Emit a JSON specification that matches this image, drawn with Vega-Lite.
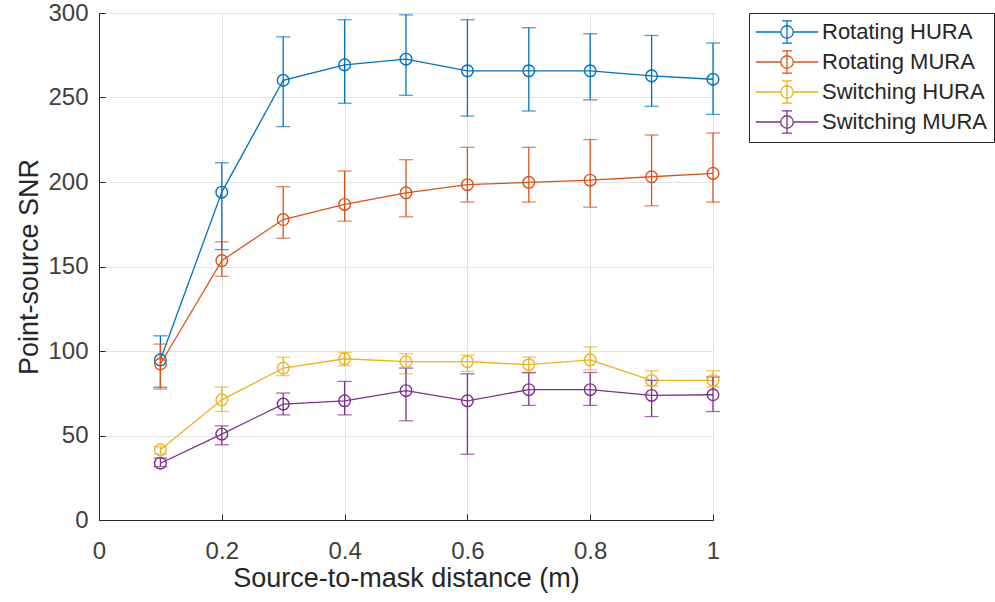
{
  "$schema": "https://vega.github.io/schema/vega-lite/v6.json",
  "width": 614,
  "height": 507,
  "autosize": "none",
  "padding": {"left": 99, "top": 13, "right": 282, "bottom": 82},
  "background": "white",
  "config": {
    "view": {"stroke": "#262626", "strokeWidth": 1},
    "font": "Liberation Sans",
    "axis": {
      "domainColor": "#262626",
      "tickColor": "#262626",
      "labelColor": "#404040",
      "titleColor": "#262626",
      "labelFont": "Liberation Sans",
      "titleFont": "Liberation Sans",
      "labelFontSize": 24,
      "titleFontSize": 27,
      "titleFontWeight": "normal",
      "labelFlush": false,
      "gridColor": "#e3e3e3",
      "gridWidth": 1,
      "tickSize": -6
    }
  },
  "data": {
    "values": [
      {"series": "Rotating HURA", "x": 0.1, "y": 94.8, "lo": 78.6, "hi": 109},
      {"series": "Rotating HURA", "x": 0.2, "y": 194, "lo": 160, "hi": 211.4},
      {"series": "Rotating HURA", "x": 0.3, "y": 260.2, "lo": 232.8, "hi": 285.9},
      {"series": "Rotating HURA", "x": 0.4, "y": 269.3, "lo": 246.6, "hi": 296},
      {"series": "Rotating HURA", "x": 0.5, "y": 272.7, "lo": 251.3, "hi": 298.9},
      {"series": "Rotating HURA", "x": 0.6, "y": 265.8, "lo": 239, "hi": 296},
      {"series": "Rotating HURA", "x": 0.7, "y": 265.8, "lo": 242, "hi": 291.3},
      {"series": "Rotating HURA", "x": 0.8, "y": 265.8, "lo": 248.6, "hi": 287.7},
      {"series": "Rotating HURA", "x": 0.9, "y": 262.8, "lo": 244.8, "hi": 286.7},
      {"series": "Rotating HURA", "x": 1.0, "y": 260.8, "lo": 240, "hi": 282.2},
      {"series": "Rotating MURA", "x": 0.1, "y": 92.3, "lo": 77.5, "hi": 104.1},
      {"series": "Rotating MURA", "x": 0.2, "y": 153.5, "lo": 144.2, "hi": 164.6},
      {"series": "Rotating MURA", "x": 0.3, "y": 177.8, "lo": 166.7, "hi": 197.2},
      {"series": "Rotating MURA", "x": 0.4, "y": 186.7, "lo": 176.8, "hi": 206.5},
      {"series": "Rotating MURA", "x": 0.5, "y": 193.6, "lo": 179.4, "hi": 213.2},
      {"series": "Rotating MURA", "x": 0.6, "y": 198.4, "lo": 188.1, "hi": 220.5},
      {"series": "Rotating MURA", "x": 0.7, "y": 199.8, "lo": 188.1, "hi": 220.5},
      {"series": "Rotating MURA", "x": 0.8, "y": 201.1, "lo": 185.1, "hi": 225.1},
      {"series": "Rotating MURA", "x": 0.9, "y": 203.1, "lo": 185.9, "hi": 227.8},
      {"series": "Rotating MURA", "x": 1.0, "y": 205.1, "lo": 188.1, "hi": 229},
      {"series": "Switching HURA", "x": 0.1, "y": 41.5, "lo": 39.1, "hi": 43.4},
      {"series": "Switching HURA", "x": 0.2, "y": 71.1, "lo": 64.2, "hi": 78.7},
      {"series": "Switching HURA", "x": 0.3, "y": 89.9, "lo": 85.4, "hi": 96.4},
      {"series": "Switching HURA", "x": 0.4, "y": 95.4, "lo": 91.3, "hi": 99.2},
      {"series": "Switching HURA", "x": 0.5, "y": 93.7, "lo": 86.5, "hi": 98.4},
      {"series": "Switching HURA", "x": 0.6, "y": 93.7, "lo": 87.9, "hi": 97.6},
      {"series": "Switching HURA", "x": 0.7, "y": 91.9, "lo": 87, "hi": 96.4},
      {"series": "Switching HURA", "x": 0.8, "y": 94.8, "lo": 88.9, "hi": 102.4},
      {"series": "Switching HURA", "x": 0.9, "y": 82.6, "lo": 79.4, "hi": 88.3},
      {"series": "Switching HURA", "x": 1.0, "y": 82.6, "lo": 78.7, "hi": 88.3},
      {"series": "Switching MURA", "x": 0.1, "y": 33.6, "lo": 31.6, "hi": 36.6},
      {"series": "Switching MURA", "x": 0.2, "y": 50.8, "lo": 44.5, "hi": 55.7},
      {"series": "Switching MURA", "x": 0.3, "y": 68.6, "lo": 62.2, "hi": 75.1},
      {"series": "Switching MURA", "x": 0.4, "y": 70.5, "lo": 62.2, "hi": 82},
      {"series": "Switching MURA", "x": 0.5, "y": 76.5, "lo": 58.7, "hi": 89.9},
      {"series": "Switching MURA", "x": 0.6, "y": 70.5, "lo": 38.9, "hi": 86.5},
      {"series": "Switching MURA", "x": 0.7, "y": 77.1, "lo": 67.8, "hi": 87.3},
      {"series": "Switching MURA", "x": 0.8, "y": 77.1, "lo": 67.8, "hi": 87.3},
      {"series": "Switching MURA", "x": 0.9, "y": 73.7, "lo": 61.2, "hi": 82.6},
      {"series": "Switching MURA", "x": 1.0, "y": 74.1, "lo": 64.2, "hi": 84.6}
    ]
  },
  "encoding": {
    "x": {
      "field": "x",
      "type": "quantitative",
      "scale": {"domain": [0, 1], "nice": false, "zero": false},
      "axis": {
        "values": [0, 0.2, 0.4, 0.6, 0.8, 1],
        "format": "~g",
        "title": "Source-to-mask distance (m)",
        "labelPadding": 25,
        "titlePadding": 2
      }
    },
    "color": {
      "field": "series",
      "type": "nominal",
      "scale": {
        "domain": ["Rotating HURA", "Rotating MURA", "Switching HURA", "Switching MURA"],
        "range": ["#0072BD", "#D95319", "#EDB120", "#7E2F8E"]
      },
      "legend": {
        "title": null,
        "orient": "none",
        "legendX": 650,
        "legendY": 0,
        "strokeColor": "#262626",
        "fillColor": "white",
        "padding": 6,
        "labelFont": "Liberation Sans",
        "labelFontSize": 22,
        "labelColor": "#262626",
        "labelLimit": 300,
        "labelOffset": 22,
        "symbolOffset": 19,
        "rowPadding": 2,
        "symbolType": "M-2.6,0H-0.52M0.52,0H2.6M0,-0.92V0.92M-0.42,-0.92H0.42M-0.42,0.92H0.42M0.52,0A0.52,0.52 0 1,1 -0.52,0A0.52,0.52 0 1,1 0.52,0",
        "symbolSize": 576,
        "symbolStrokeWidth": 1.3,
        "symbolFillColor": "transparent",
        "symbolOpacity": 1,
        "encode": {
          "symbols": {
            "update": {
              "fill": {"value": "transparent"},
              "fillOpacity": {"value": 0},
              "size": {"value": 576},
              "strokeWidth": {"value": 1.3},
              "opacity": {"value": 1}
            }
          }
        }
      }
    }
  },
  "layer": [
    {
      "mark": {"type": "line", "strokeWidth": 1.3},
      "encoding": {
        "y": {
          "field": "y",
          "type": "quantitative",
          "title": "Point-source SNR",
          "scale": {"domain": [0, 300], "nice": false},
          "axis": {
            "values": [0, 50, 100, 150, 200, 250, 300],
            "title": "Point-source SNR",
            "labelPadding": 17,
            "titlePadding": 4
          }
        }
      }
    },
    {
      "mark": {"type": "errorbar", "thickness": 1.3, "ticks": {"size": 14, "thickness": 1.3}},
      "encoding": {
        "y": {"field": "lo", "type": "quantitative", "title": "Point-source SNR"},
        "y2": {"field": "hi"}
      }
    },
    {
      "mark": {"type": "point", "shape": "circle", "size": 135, "filled": false, "strokeWidth": 1.4, "opacity": 1},
      "encoding": {
        "y": {"field": "y", "type": "quantitative", "title": "Point-source SNR"}
      }
    }
  ]
}
